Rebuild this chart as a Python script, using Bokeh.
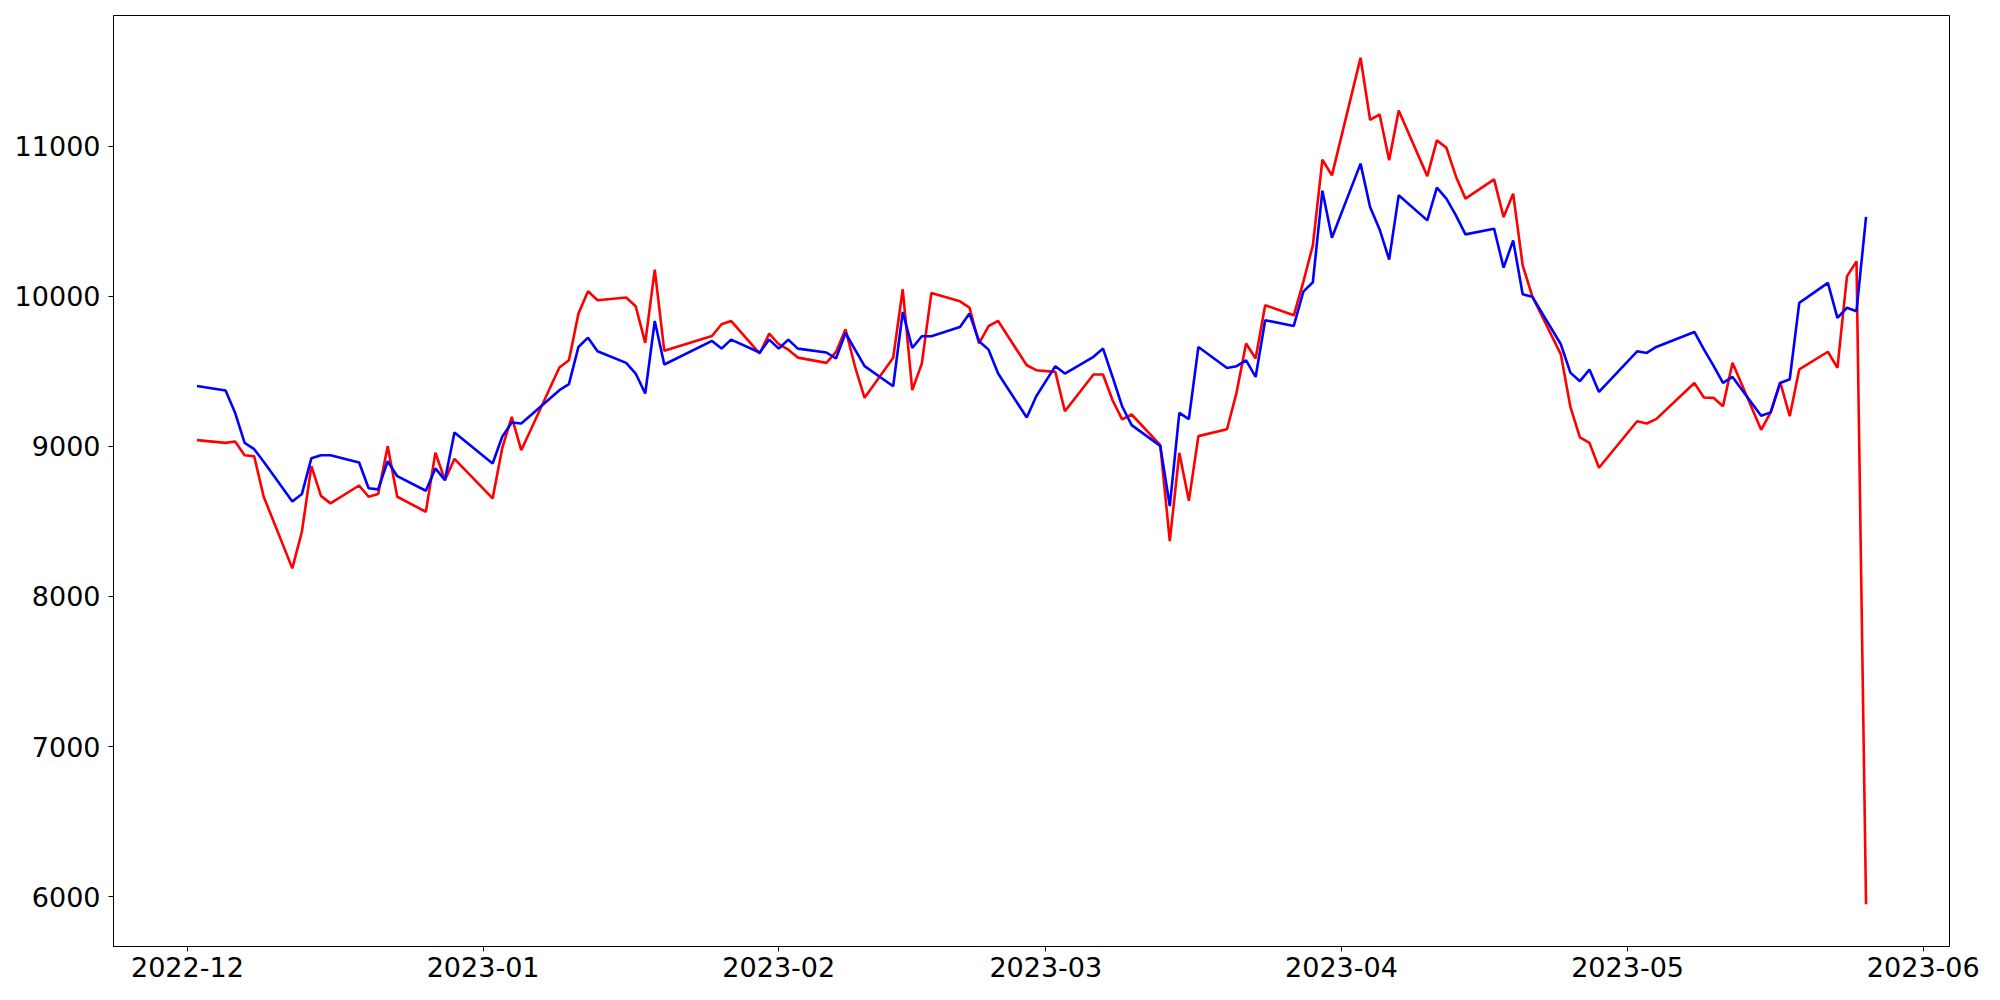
import pandas as pd
from bokeh.plotting import figure
from bokeh.models import Range1d, DatetimeTickFormatter, MonthsTicker, FixedTicker
from bokeh.embed import file_html
from bokeh.resources import INLINE

# KRX trading days, Dec 2022 - May 2023 (market holidays removed)
holidays = ["2022-12-30", "2023-01-23", "2023-01-24", "2023-03-01", "2023-05-01", "2023-05-05"]
dates = pd.bdate_range("2022-12-02", "2023-05-26", freq="C", holidays=holidays)

blue_values = [
    9402, 9372, 9223, 9023, 8981, 8897, 8633, 8682, 8921, 8941, 8941, 8892, 8721, 8713, 8901, 8801, 8704, 8853, 8775, 9092,
    8886, 9063, 9159, 9152, 9207, 9374, 9414, 9662, 9724, 9633, 9556, 9485, 9352, 9835, 9545, 9702, 9651, 9711, 9625, 9711,
    9651, 9711, 9651, 9625, 9585, 9755, 9644, 9534, 9400, 9895, 9655, 9733, 9733, 9795, 9884, 9700, 9644, 9485, 9192, 9334,
    9534, 9485, 9596, 9651, 9462, 9267, 9141, 9003, 8602, 9223, 9181, 9662, 9522, 9534, 9573, 9462, 9840, 9802, 10030, 10093, 10703, 10390,
    10883, 10594, 10445, 10244, 10672, 10505, 10723, 10650, 10538, 10412, 10450, 10190, 10372, 10013, 9997, 9680, 9491, 9434, 9511, 9362,
    9633, 9622, 9662, 9762, 9646, 9538, 9422, 9462, 9204, 9226, 9422, 9447, 9956, 10089, 9856, 9923, 9900, 10528,
]

red_values = [
    9041, 9023, 9032, 8941, 8934, 8664, 8187, 8431, 8868, 8670, 8620, 8739, 8664, 8682, 9001, 8664, 8564, 8957, 8775, 8917,
    8653, 8986, 9196, 8974, 9110, 9525, 9573, 9884, 10033, 9973, 9991, 9933, 9689, 10177, 9636, 9735, 9813, 9835, 9618, 9751,
    9680, 9644, 9591, 9556, 9629, 9780, 9530, 9323, 9590, 10046, 9374, 9551, 10021, 9966, 9924, 9685, 9800, 9835, 9540, 9507,
    9496, 9234, 9478, 9478, 9307, 9180, 9212, 9008, 8369, 8957, 8637, 9068, 9114, 9358, 9685, 9585, 9940, 9873, 10095, 10339, 10909, 10805,
    11588, 11175, 11211, 10905, 11237, 10800, 11038, 10989, 10798, 10650, 10778, 10527, 10683, 10206, 10000, 9613, 9263, 9059, 9023, 8857,
    9167, 9152, 9181, 9422, 9325, 9323, 9267, 9556, 9110, 9226, 9427, 9201, 9513, 9630, 9523, 10132, 10232, 5950,
]

y_ticks = [6000, 7000, 8000, 9000, 10000, 11000]

# matplotlib-like 5% margins
t0, t1 = dates[0], dates[-1]
dt = (t1 - t0) * 0.05
all_vals = blue_values + red_values
lo, hi = min(all_vals), max(all_vals)
pad = (hi - lo) * 0.05

p = figure(
    output_backend="svg", toolbar_location=None,
    x_axis_type="datetime",
    frame_width=1836, frame_height=931,
    min_border_left=113, min_border_right=35, min_border_top=15, min_border_bottom=46,
    x_range=Range1d(t0 - dt, t1 + dt), y_range=Range1d(lo - pad, hi + pad),
    background_fill_color="white", border_fill_color="white",
)

p.line(dates, red_values, line_color="#ff0000", line_width=2.6)
p.line(dates, blue_values, line_color="#0000ff", line_width=2.6)

p.xgrid.visible = False
p.ygrid.visible = False
p.outline_line_color = "black"
p.outline_line_width = 1
p.outline_line_alpha = 1

p.xaxis.ticker = MonthsTicker(months=list(range(1, 13)))
p.xaxis.formatter = DatetimeTickFormatter(months="%Y-%m", days="%Y-%m", years="%Y-%m")
p.yaxis.ticker = FixedTicker(ticks=y_ticks)

for ax in (p.xaxis[0], p.yaxis[0]):
    ax.major_label_text_font = "DejaVu Sans"
    ax.major_label_text_font_size = "27px"
    ax.major_label_text_color = "black"
    ax.major_tick_out = 5
    ax.major_tick_in = 0
    ax.minor_tick_out = 0
    ax.minor_tick_in = 0
    ax.major_tick_line_color = "black"
    ax.axis_line_color = "black"
    ax.major_label_standoff = 5

p.yaxis[0].major_label_standoff = 8

open("out.html", "w").write(file_html(p, INLINE))
